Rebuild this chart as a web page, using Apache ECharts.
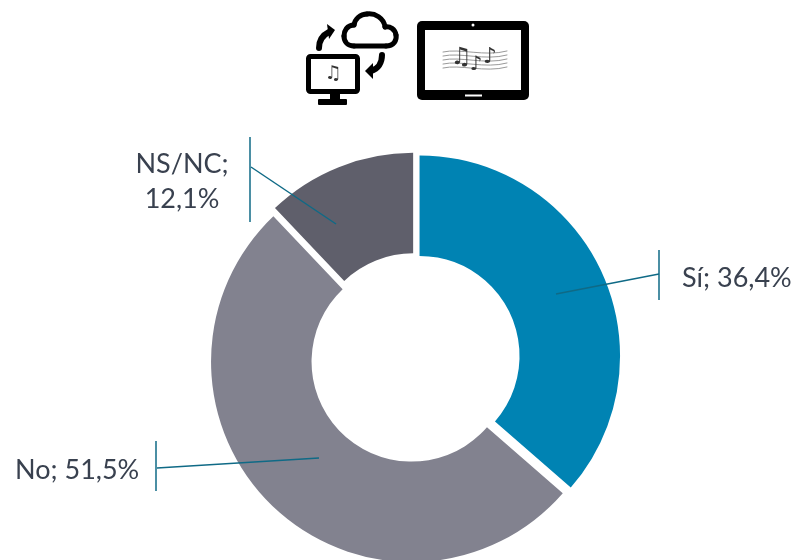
<!DOCTYPE html>
<html>
<head>
<meta charset="utf-8">
<style>
  html, body { margin: 0; padding: 0; background: #ffffff; }
  #chart { width: 800px; height: 560px; }
</style>
<script src="https://cdn.jsdelivr.net/npm/echarts@6/dist/echarts.min.js"></script>
</head>
<body>
<div id="chart"></div>
<script>
const categories = ['Sí', 'No', 'NS/NC']
const values = [36.4, 51.5, 12.1]
const valueLabels = ['36,4%', '51,5%', '12,1%']
const labelSeparators = ['; ', '; ', ';\n']
const sliceColors = ['#0083b3', '#82828f', '#5f5f6b']

const LINE_COLOR = '#0f6a86'
const TEXT_COLOR = '#39414f'

// label anchor, leader line (start inside the slice, end on the tick) and tick per slice
const labelPlaces = [
  {x: 682, y: 278, align: 'left', line: [556, 294, 659, 274], tick: [659, 250, 300]},
  {x: 15, y: 470, align: 'left', line: [319, 458, 157, 468], tick: [156, 441, 491]},
  {x: 182, y: 182, align: 'center', line: [336, 224, 251, 167], tick: [250, 137, 222]}
]

const curve = (c, stroke, lineWidth) => ({
  type: 'bezierCurve',
  shape: {x1: c[0], y1: c[1], cpx1: c[2], cpy1: c[3], cpx2: c[4], cpy2: c[5], x2: c[6], y2: c[7]},
  style: {fill: 'none', stroke, lineWidth, lineCap: 'round'}
})

const cloudCurves = [
  [354, 46, 365, 46, 375, 46, 386, 46],
  [386, 46, 394, 46, 397, 40, 396, 35],
  [396, 35, 395, 29, 390, 26, 385, 27],
  [385, 27, 384, 18, 375, 13, 367, 14],
  [367, 14, 360, 14, 355, 19, 354, 25],
  [354, 25, 347, 25, 344, 31, 344, 36],
  [344, 36, 344, 42, 348, 46, 354, 46]
]
const arrowCurves = [
  [319, 48, 319, 40, 323, 35, 329, 32],
  [382, 55, 382, 63, 378, 69, 371, 71]
]
const staffLines = [52, 56, 60, 64, 68]

const noteText = (x, y, text, fontSize) => ({
  type: 'text',
  style: {x, y, text, fill: '#333', fontSize, fontFamily: 'DejaVu Sans', align: 'center', verticalAlign: 'middle'}
})

const icons = [
  ...cloudCurves.map((c) => curve(c, '#000', 5)),
  ...arrowCurves.map((c) => curve(c, '#000', 6)),
  {type: 'polygon', shape: {points: [[335, 30], [327, 24], [329, 39]]}, style: {fill: '#000'}},
  {type: 'polygon', shape: {points: [[365, 71], [373, 63], [373, 79]]}, style: {fill: '#000'}},
  // monitor
  {type: 'rect', shape: {x: 308.5, y: 56.5, width: 49, height: 35, r: 2}, style: {fill: '#fff', stroke: '#000', lineWidth: 5}},
  {type: 'rect', shape: {x: 330, y: 93, width: 10, height: 7}, style: {fill: '#000'}},
  {type: 'rect', shape: {x: 318, y: 99, width: 29, height: 6, r: 1}, style: {fill: '#000'}},
  noteText(333, 74, '♫', 19),
  // tablet
  {type: 'rect', shape: {x: 417, y: 21, width: 112, height: 79, r: 5}, style: {fill: '#000'}},
  {type: 'rect', shape: {x: 425, y: 30, width: 96, height: 60}, style: {fill: '#fff'}},
  {type: 'circle', shape: {cx: 473, cy: 25, r: 1.5}, style: {fill: '#fff'}},
  {type: 'rect', shape: {x: 465, y: 94.5, width: 17, height: 2}, style: {fill: '#fff'}},
  ...staffLines.map((y) => curve([443, y, 460, y - 4, 485, y + 5, 507, y - 1], '#9a9a9a', 1)),
  noteText(461, 58, '♫', 24),
  noteText(476, 65, '♪', 20),
  noteText(490, 57, '♪', 22)
]

// leader lines sit over the slices, so they are graphics above the series
const leaders = labelPlaces.flatMap((p) => [
  {type: 'line', z: 10, shape: {x1: p.line[0], y1: p.line[1], x2: p.line[2], y2: p.line[3]},
    style: {stroke: LINE_COLOR, lineWidth: 1.5}},
  {type: 'line', z: 10, shape: {x1: p.tick[0], y1: p.tick[1], x2: p.tick[0], y2: p.tick[2]},
    style: {stroke: LINE_COLOR, lineWidth: 1.5}}
])

// pie labels lose their place on selected slices, so the text is placed here
const labels = labelPlaces.map((p, i) => ({
  type: 'text',
  z: 10,
  style: {
    x: p.x,
    y: p.y,
    text: categories[i] + labelSeparators[i] + valueLabels[i],
    fill: TEXT_COLOR,
    fontFamily: 'Lato',
    fontSize: 27,
    lineHeight: 35,
    align: p.align,
    verticalAlign: 'middle'
  }
}))

const myChart = echarts.init(document.getElementById('chart'))

myChart.setOption({
  backgroundColor: '#ffffff',
  animation: false,
  graphic: {elements: [...icons, ...leaders, ...labels]},
  series: [
    {
      type: 'pie',
      center: [415, 358],
      radius: [100, 200.5],
      startAngle: 90,
      clockwise: true,
      silent: true,
      selectedMode: 'multiple',
      selectedOffset: 5,
      data: categories.map((name, i) => ({
        name,
        value: values[i],
        selected: true,
        itemStyle: {color: sliceColors[i]}
      })),
      label: {show: false},
      labelLine: {show: false}
    }
  ]
})
</script>
</body>
</html>
